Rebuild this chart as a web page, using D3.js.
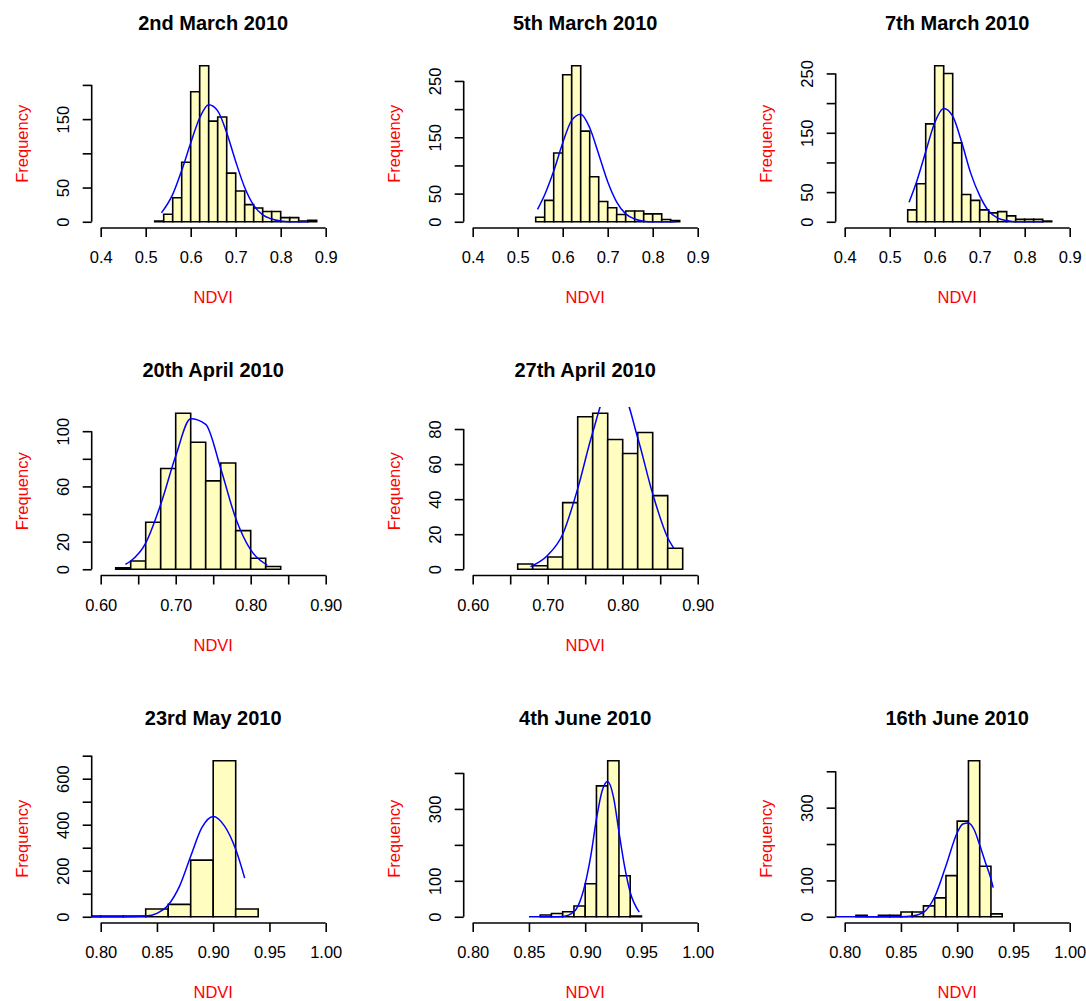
<!DOCTYPE html>
<html>
<head>
<meta charset="utf-8">
<script src="https://cdn.jsdelivr.net/npm/d3@7"></script>
<style>
  body { margin: 0; background: #fff; }
  text { font-family: "Liberation Sans", Arial, sans-serif; }
</style>
</head>
<body>
<div id="chart"></div>
<script>
"use strict";

// == DATA ==
var titles = ["2nd March 2010", "5th March 2010", "7th March 2010",
              "20th April 2010", "27th April 2010",
              "23rd May 2010", "4th June 2010", "16th June 2010"];

// [column, row] of each histogram in the 3x3 grid (row 2 col 3 stays empty)
var gridPos = [[0, 0], [1, 0], [2, 0], [0, 1], [1, 1], [0, 2], [1, 2], [2, 2]];

// histogram bins: first break, bin width, counts
var binStart = [0.52, 0.54, 0.54, 0.62, 0.66, 0.78, 0.86, 0.81];
var binWidth = [0.02, 0.02, 0.02, 0.02, 0.02, 0.02, 0.01, 0.01];
var counts = [
  [1, 11, 35, 87, 190, 228, 147, 153, 71, 45, 25, 20, 15, 15, 6, 6, 1, 2],
  [8, 38, 122, 261, 277, 161, 80, 36, 25, 13, 19, 19, 14, 14, 4, 2],
  [20, 64, 165, 263, 250, 133, 46, 36, 20, 15, 17, 10, 4, 4, 4, 1],
  [1, 6, 34, 73, 113, 92, 64, 77, 28, 8, 2],
  [3, 2, 7, 38, 87, 89, 74, 66, 78, 42, 12],
  [3, 3, 3, 34, 54, 246, 678, 34],
  [5, 9, 14, 30, 92, 364, 434, 114, 2],
  [4, 0, 4, 4, 13, 13, 30, 52, 113, 263, 429, 139, 8]
];

// fitted curve (blue)
var fitX = [
  [0.535, 0.56, 0.58, 0.60, 0.62, 0.64, 0.66, 0.68, 0.70, 0.72, 0.74, 0.76, 0.78, 0.80, 0.82, 0.86],
  [0.544, 0.56, 0.58, 0.60, 0.62, 0.64, 0.66, 0.68, 0.70, 0.72, 0.74, 0.76, 0.78, 0.80, 0.85],
  [0.543, 0.56, 0.58, 0.60, 0.62, 0.64, 0.66, 0.68, 0.70, 0.72, 0.74, 0.76, 0.78, 0.84],
  [0.633, 0.64, 0.66, 0.68, 0.70, 0.72, 0.74, 0.76, 0.78, 0.80, 0.822],
  [0.677, 0.70, 0.72, 0.74, 0.76, 0.78, 0.80, 0.82, 0.84, 0.86, 0.868],
  [0.78, 0.82, 0.84, 0.85, 0.86, 0.87, 0.88, 0.89, 0.90, 0.91, 0.92, 0.928],
  [0.85, 0.87, 0.88, 0.89, 0.895, 0.90, 0.905, 0.91, 0.915, 0.92, 0.925, 0.93, 0.935, 0.94, 0.948],
  [0.785, 0.85, 0.86, 0.87, 0.88, 0.89, 0.90, 0.905, 0.91, 0.915, 0.92, 0.925, 0.93, 0.932]
];
var fitY = [
  [13, 40, 75, 115, 152, 171, 162, 130, 88, 50, 24, 10, 4, 1, 0, 0],
  [22, 48, 90, 140, 180, 191, 167, 120, 71, 35, 14, 5, 1, 0, 0],
  [33, 68, 118, 167, 191, 178, 134, 82, 44, 18, 6, 2, 0, 0],
  [3.5, 6, 19, 47, 82, 109, 105, 73, 37, 14, 3],
  [1.5, 8, 20, 46, 78, 101, 100, 75, 43, 18, 12],
  [0, 0, 3, 15, 51, 132, 263, 388, 436, 395, 293, 168],
  [0, 0, 1, 14, 40, 92, 170, 272, 350, 376, 335, 236, 140, 68, 13],
  [0, 0, 2, 12, 55, 140, 231, 255, 258, 240, 197, 150, 104, 80]
];

// axes
var xLims = [[0.4, 0.9], [0.4, 0.9], [0.4, 0.9], [0.6, 0.9], [0.6, 0.9], [0.8, 1.0], [0.8, 1.0], [0.8, 1.0]];
var xTicksMarch = [0.4, 0.5, 0.6, 0.7, 0.8, 0.9];
var xLabelsMarch = ["0.4", "0.5", "0.6", "0.7", "0.8", "0.9"];
var xTicksApril = [0.60, 0.65, 0.70, 0.75, 0.80, 0.85, 0.90];
var xLabelsApril = ["0.60", "", "0.70", "", "0.80", "", "0.90"];
var xTicksJune = [0.80, 0.85, 0.90, 0.95, 1.00];
var xLabelsJune = ["0.80", "0.85", "0.90", "0.95", "1.00"];

var yTicks = [
  [0, 50, 100, 150, 200],
  [0, 50, 100, 150, 200, 250],
  [0, 50, 100, 150, 200, 250],
  [0, 20, 40, 60, 80, 100],
  [0, 20, 40, 60, 80],
  [0, 100, 200, 300, 400, 500, 600, 700],
  [0, 100, 200, 300, 400],
  [0, 100, 200, 300, 400]
];
var yLabels = [
  ["0", "50", "", "150", ""],
  ["0", "50", "", "150", "", "250"],
  ["0", "50", "", "150", "", "250"],
  ["0", "20", "", "60", "", "100"],
  ["0", "20", "40", "60", "80"],
  ["0", "", "200", "", "400", "", "600", ""],
  ["0", "100", "", "300", ""],
  ["0", "100", "", "300", ""]
];

// == BOILERPLATE ==
var width = 1086, height = 1001;
var plotW = 243, plotH = 168.5;
var colStep = 372, rowStep = 347.5, left0 = 91.7, top0 = 59.5;
var fontSize = "16.5px";

var svg = d3.select("#chart")
            .append("svg")
            .attr("width", width)
            .attr("height", height);

titles.forEach(function (title, i) {
  var c = gridPos[i][0], r = gridPos[i][1];
  var g = svg.append("g")
             .attr("transform", "translate(" + (left0 + c * colStep) + "," + (top0 + r * rowStep) + ")");

  // R style: plot region is the data range stretched 4% each side
  var lo = xLims[i][0], hi = xLims[i][1], pad = 0.04 * (hi - lo);
  var x = d3.scaleLinear().domain([lo - pad, hi + pad]).range([0, plotW]);
  var ymax = d3.max(counts[i]);
  var y = d3.scaleLinear().domain([-0.04 * ymax, 1.04 * ymax]).range([plotH, 0]);

  g.append("clipPath").attr("id", "clip" + i)
   .append("rect").attr("width", plotW).attr("height", plotH);

  var plot = g.append("g").attr("clip-path", "url(#clip" + i + ")");

  // bars (paths so that empty bins still show as a line)
  var bins = counts[i].map(function (n, k) {
    return { x0: binStart[i] + k * binWidth[i], x1: binStart[i] + (k + 1) * binWidth[i], n: n };
  });
  plot.selectAll("path.bar")
      .data(bins)
      .enter()
      .append("path")
      .attr("class", "bar")
      .attr("d", function (d) {
        return "M" + x(d.x0) + "," + y(0) + "V" + y(d.n) + "H" + x(d.x1) + "V" + y(0) + "Z";
      })
      .attr("fill", "#FFFEC0")
      .attr("stroke", "#000")
      .attr("stroke-width", 1.6);

  // fitted curve
  var pts = fitX[i].map(function (v, k) { return [v, fitY[i][k]]; });
  var line = d3.line()
               .x(function (d) { return x(d[0]); })
               .y(function (d) { return y(d[1]); })
               .curve(d3.curveMonotoneX);
  plot.append("path")
      .datum(pts)
      .attr("d", line)
      .attr("fill", "none")
      .attr("stroke", "#0000FF")
      .attr("stroke-width", 1.5);

  // x axis
  var xt = i < 3 ? xTicksMarch : (i < 5 ? xTicksApril : xTicksJune);
  var xl = i < 3 ? xLabelsMarch : (i < 5 ? xLabelsApril : xLabelsJune);
  var xAxis = g.append("g")
               .attr("transform", "translate(0," + plotH + ")")
               .call(d3.axisBottom(x).tickValues(xt)
                       .tickFormat(function (d, k) { return xl[k]; })
                       .tickSize(9).tickSizeOuter(0));
  xAxis.select(".domain").remove();
  xAxis.append("line")
       .attr("x1", x(xt[0])).attr("x2", x(xt[xt.length - 1]))
       .attr("stroke", "#000").attr("stroke-width", 1.6);
  xAxis.selectAll(".tick line").attr("stroke-width", 1.6);
  xAxis.selectAll("text")
       .attr("y", 35).attr("dy", 0)
       .attr("fill", "#000")
       .style("font-size", fontSize);

  // y axis
  var yt = yTicks[i], yl = yLabels[i];
  var yAxis = g.append("g")
               .call(d3.axisLeft(y).tickValues(yt)
                       .tickFormat(function (d, k) { return yl[k]; })
                       .tickSize(9).tickSizeOuter(0));
  yAxis.select(".domain").remove();
  yAxis.append("line")
       .attr("y1", y(yt[0])).attr("y2", y(yt[yt.length - 1]))
       .attr("stroke", "#000").attr("stroke-width", 1.6);
  yAxis.selectAll(".tick line").attr("stroke-width", 1.6);
  yAxis.selectAll("text")
       .attr("transform", "rotate(-90)")
       .attr("x", 0).attr("y", -23).attr("dy", 0)
       .style("text-anchor", "middle")
       .attr("fill", "#000")
       .style("font-size", fontSize);

  // titles
  g.append("text")
   .attr("x", plotW / 2).attr("y", -30)
   .attr("text-anchor", "middle")
   .style("font-size", "20px")
   .style("font-weight", "bold")
   .text(title);

  g.append("text")
   .attr("x", plotW / 2).attr("y", plotH + 75)
   .attr("text-anchor", "middle")
   .attr("fill", "red")
   .style("font-size", fontSize)
   .text("NDVI");

  g.append("text")
   .attr("transform", "translate(-63.5," + (plotH / 2) + ") rotate(-90)")
   .attr("text-anchor", "middle")
   .attr("fill", "red")
   .style("font-size", fontSize)
   .text("Frequency");
});
</script>
</body>
</html>
